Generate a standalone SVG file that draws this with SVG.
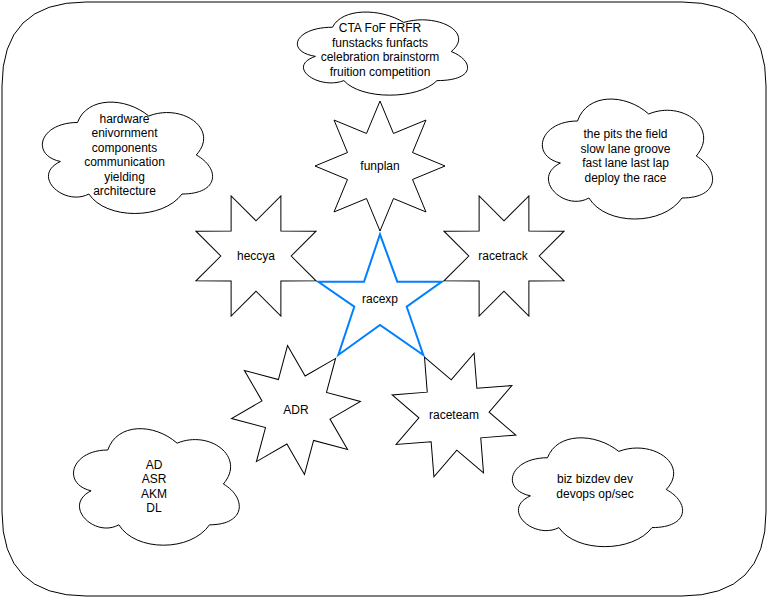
<svg xmlns="http://www.w3.org/2000/svg" xmlns:xlink="http://www.w3.org/1999/xlink" width="772" height="602" viewBox="0 0 772 602">
<style>
.shape{fill:#fff;stroke:#000;stroke-width:1}
.hub{fill:#fff;stroke:#007FFF;stroke-width:2}
.lbl{font-family:"Liberation Sans",Arial,sans-serif;font-size:12px;fill:#000;text-anchor:middle}
</style>
<defs>
<path id="star8" d="M0,-65 L13.47,-32.52 L45.96,-45.96 L32.52,-13.47 L65,0 L32.52,13.47 L45.96,45.96 L13.47,32.52 L0,65 L-13.47,32.52 L-45.96,45.96 L-32.52,13.47 L-65,0 L-32.52,-13.47 L-45.96,-45.96 L-13.47,-32.52 Z"/>
</defs>
<rect x="0" y="0" width="772" height="602" fill="#fff"/>
<g id="frame">
<path class="shape" d="M86,2 L682,2 Q766,2 766,86 L766,512 Q766,596 682,596 L86,596 Q2,596 2,512 L2,86 Q2,2 86,2 Z"/>
</g>
<g id="connectors"></g>
<g id="cloud-top">
<path class="shape" d="M332.5,27.25 C294.5,27.25 285,51.5 315.4,56.35 C285,67.02 319.2,90.3 343.9,80.6 C361,100 418,100 437,80.6 C475,80.6 475,61.2 451.25,51.5 C475,32.1 437,12.7 403.75,22.4 C380,7.85 342,7.85 332.5,27.25 Z"/>
<text class="lbl"><tspan x="380" y="32.4">CTA FoF FRFR</tspan><tspan x="380" y="46.8">funstacks funfacts</tspan><tspan x="380" y="61.2">celebration brainstorm</tspan><tspan x="380" y="75.6">fruition competition</tspan></text>
</g>
<g id="cloud-left">
<path class="shape" d="M77.5,122.5 C39.5,122.5 30,155 60.4,161.5 C30,175.8 64.2,207 88.9,194 C106,220 163,220 182,194 C220,194 220,168 196.25,155 C220,129 182,103 148.75,116 C125,96.5 87,96.5 77.5,122.5 Z"/>
<text class="lbl"><tspan x="124.5" y="123">hardware</tspan><tspan x="124.5" y="137.4">enivornment</tspan><tspan x="124.5" y="151.8">components</tspan><tspan x="124.5" y="166.2">communication</tspan><tspan x="124.5" y="180.6">yielding</tspan><tspan x="124.5" y="195">architecture</tspan></text>
</g>
<g id="cloud-right">
<path class="shape" d="M577.5,121 C539.5,121 530,156 560.4,163 C530,178.4 564.2,212 588.9,198 C606,226 663,226 682,198 C720,198 720,170 696.25,156 C720,128 682,100 648.75,114 C625,93 587,93 577.5,121 Z"/>
<text class="lbl"><tspan x="625.5" y="138.4">the pits the field</tspan><tspan x="625.5" y="152.8">slow lane groove</tspan><tspan x="625.5" y="167.2">fast lane last lap</tspan><tspan x="625.5" y="181.6">deploy the race</tspan></text>
</g>
<g id="cloud-bottom-left">
<path class="shape" d="M107.75,450 C70.75,450 61.5,484 91.1,490.8 C61.5,505.76 94.8,538.4 118.85,524.8 C135.5,552 191,552 209.5,524.8 C246.5,524.8 246.5,497.6 223.375,484 C246.5,456.8 209.5,429.6 177.125,443.2 C154,422.8 117,422.8 107.75,450 Z"/>
<text class="lbl"><tspan x="154" y="468.9">AD</tspan><tspan x="154" y="483.3">ASR</tspan><tspan x="154" y="497.7">AKM</tspan><tspan x="154" y="512.1">DL</tspan></text>
</g>
<g id="cloud-bottom-right">
<path class="shape" d="M547.5,457.75 C509.5,457.75 500,489.5 530.4,495.85 C500,509.82 534.2,540.3 558.9,527.6 C576,553 633,553 652,527.6 C690,527.6 690,502.2 666.25,489.5 C690,464.1 652,438.7 618.75,451.4 C595,432.35 557,432.35 547.5,457.75 Z"/>
<text class="lbl"><tspan x="595" y="483.3">biz bizdev dev</tspan><tspan x="595" y="497.7">devops op/sec</tspan></text>
</g>
<g id="funplan">
<use xlink:href="#star8" class="shape" transform="translate(380,166)"/>
<text class="lbl" x="380" y="170">funplan</text>
</g>
<g id="heccya">
<use xlink:href="#star8" class="shape" transform="translate(256,256) rotate(22.5)"/>
<text class="lbl" x="256" y="260">heccya</text>
</g>
<g id="racetrack">
<use xlink:href="#star8" class="shape" transform="translate(504,256) rotate(22.5)"/>
<text class="lbl" x="503" y="260">racetrack</text>
</g>
<g id="ADR">
<use xlink:href="#star8" class="shape" transform="translate(296,410) rotate(-7.5)"/>
<text class="lbl" x="296" y="414">ADR</text>
</g>
<g id="raceteam">
<use xlink:href="#star8" class="shape" transform="translate(454,415) rotate(18)"/>
<text class="lbl" x="454" y="419">raceteam</text>
</g>
<g id="racexp">
<path class="hub" d="M380,234.3 L397.3,281.7 L441.7,281.7 L406.7,306.7 L423.3,355 L380,325 L338.3,355 L354.3,306.7 L318.3,281.7 L364,281.7 Z"/>
<text class="lbl" x="380" y="302.5">racexp</text>
</g>
</svg>
